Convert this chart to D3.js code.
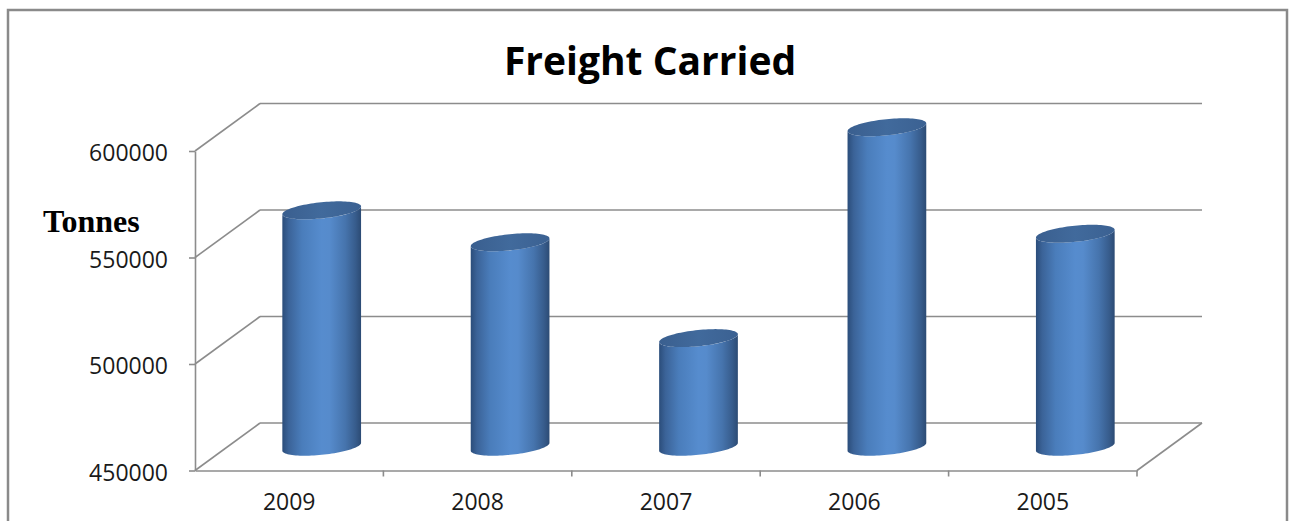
<!DOCTYPE html>
<html>
<head>
<meta charset="utf-8">
<script src="https://cdn.jsdelivr.net/npm/d3@7"></script>
<style>
  html, body { margin: 0; padding: 0; background: #fff; }
  svg { display: block; }
</style>
</head>
<body>
<svg id="chart" width="1291" height="521"></svg>
<script>
// Freight carried per year (tonnes)
const years = ["2009", "2008", "2007", "2006", "2005"];
const tonnes = [561000, 546000, 501000, 600000, 550000];
const yTicks = [450000, 500000, 550000, 600000];
const titleText = "Freight Carried";
const axisTitle = "Tonnes";

const svg = d3.select("#chart");

// Front plane of the 3-D plot box and its depth offset
const front = { left: 195, right: 1137, top: 151, bottom: 470.5 };
const depth = { dx: 65, dy: -47.5 };

const x = d3.scaleBand().domain(years).range([front.left, front.right]).padding(0);
const y = d3.scaleLinear().domain([450000, 600000]).range([front.bottom, front.top]);

const gridColor = "#8c8c8c";

// Outer chart border
svg.append("rect")
  .attr("x", 8).attr("y", 10).attr("width", 1279).attr("height", 530)
  .attr("fill", "none").attr("stroke", "#8a8a8a").attr("stroke-width", 2.5);

// Back wall gridlines
const grid = svg.append("g").attr("stroke", gridColor).attr("stroke-width", 1.6).attr("fill", "none");
grid.selectAll("line.back").data(yTicks).join("line")
  .attr("class", "back")
  .attr("x1", front.left + depth.dx).attr("x2", front.right + depth.dx)
  .attr("y1", d => y(d) + depth.dy).attr("y2", d => y(d) + depth.dy);
// Side wall gridlines
grid.selectAll("line.side").data(yTicks).join("line")
  .attr("class", "side")
  .attr("x1", front.left).attr("x2", front.left + depth.dx)
  .attr("y1", d => y(d)).attr("y2", d => y(d) + depth.dy);
// Right edge of the floor
grid.append("line")
  .attr("x1", front.right).attr("y1", y(450000))
  .attr("x2", front.right + depth.dx).attr("y2", y(450000) + depth.dy);

// Value axis
const yAxis = svg.append("g")
  .attr("transform", `translate(${front.left},0)`)
  .call(d3.axisLeft(y).tickValues(yTicks).tickFormat(d3.format("d")).tickSize(6).tickSizeOuter(0).tickPadding(21));
yAxis.select(".domain").attr("stroke", gridColor).attr("stroke-width", 1.6);
yAxis.selectAll(".tick line").attr("stroke", gridColor).attr("stroke-width", 1.6);
yAxis.selectAll(".tick text")
  .attr("font-family", "'Open Sans', sans-serif").attr("font-size", 23)
  .attr("fill", "#1a1a1a").attr("dy", "0.42em");

// Category axis
const xAxis = svg.append("g")
  .attr("transform", `translate(0,${front.bottom})`)
  .call(d3.axisBottom(x).tickSize(0).tickSizeOuter(0).tickPadding(26));
xAxis.select(".domain").attr("stroke", gridColor).attr("stroke-width", 1.6);
xAxis.selectAll(".tick text")
  .attr("font-family", "'Open Sans', sans-serif").attr("font-size", 23)
  .attr("fill", "#1a1a1a").attr("dy", "0.6em");
// Tick marks at category boundaries
const bounds = years.map(d => x(d)).concat([front.right]);
xAxis.selectAll("line.bound").data(bounds.slice(1)).join("line")
  .attr("class", "bound")
  .attr("x1", d => d).attr("x2", d => d)
  .attr("y1", 0).attr("y2", 6)
  .attr("stroke", gridColor).attr("stroke-width", 1.6);

// Cylinder shading
const defs = svg.append("defs");
const sideGrad = defs.append("linearGradient").attr("id", "cylSide")
  .attr("x1", 0).attr("x2", 1).attr("y1", 0).attr("y2", 0);
[
  [0, "#2b4d7a"], [0.08, "#3b6398"], [0.25, "#4a7dbb"], [0.5, "#568cce"],
  [0.6, "#568bcc"], [0.8, "#4674ad"], [0.93, "#375c8c"], [1, "#2c4b74"]
].forEach(([o, c]) => sideGrad.append("stop").attr("offset", o).attr("stop-color", c));
const topGrad = defs.append("linearGradient").attr("id", "cylTop")
  .attr("x1", 0).attr("x2", 1).attr("y1", 0).attr("y2", 0);
[[0, "#3a5f8f"], [0.5, "#416a9c"], [1, "#3b6192"]]
  .forEach(([o, c]) => topGrad.append("stop").attr("offset", o).attr("stop-color", c));

// Ellipse of a cylinder cross-section in oblique projection
const R = 35.5, A = 17, B = 9;
const t0 = Math.atan2(A, R);
const ellipsePt = (cx, cy, t) => [cx + R * Math.cos(t) + A * Math.sin(t), cy - B * Math.sin(t)];
const N = 48;
const frontHalf = d3.range(N + 1).map(i => Math.PI + t0 + Math.PI * i / N);
const fullRing = d3.range(2 * N).map(i => 2 * Math.PI * i / (2 * N));
const line = d3.line();

const bars = svg.append("g").selectAll("g").data(years.map((d, i) => ({ year: d, value: tonnes[i] }))).join("g");
bars.each(function (d) {
  const g = d3.select(this);
  const cx = x(d.year) + x.bandwidth() / 2 + depth.dx / 2;
  const yBase = y(450000) + depth.dy / 2;
  const yTop = y(d.value) + depth.dy / 2;
  const bottomPts = frontHalf.map(t => ellipsePt(cx, yBase, t));
  const topPts = frontHalf.map(t => ellipsePt(cx, yTop, t)).reverse();
  g.append("path").attr("d", line(bottomPts.concat(topPts)) + "Z").attr("fill", "url(#cylSide)");
  g.append("path").attr("d", line(fullRing.map(t => ellipsePt(cx, yTop, t))) + "Z").attr("fill", "url(#cylTop)");
});

// Titles
svg.append("text")
  .attr("x", 650).attr("y", 75).attr("text-anchor", "middle")
  .attr("font-family", "'Open Sans', sans-serif").attr("font-weight", 700).attr("font-size", 39)
  .attr("fill", "#000").text(titleText);
svg.append("text")
  .attr("x", 43).attr("y", 232)
  .attr("font-family", "'Liberation Serif', 'Times New Roman', serif").attr("font-weight", 700).attr("font-size", 32)
  .attr("fill", "#000").text(axisTitle);
</script>
</body>
</html>
